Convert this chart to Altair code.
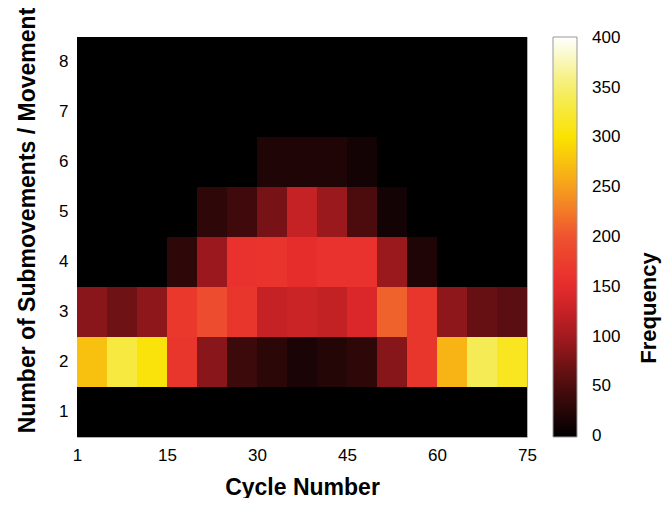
import altair as alt
import pandas as pd

# Cycle-number bins (start of each 5-cycle bin), 15 bins covering 1..75
cycle_bin_start = [0, 5, 10, 15, 20, 25, 30, 35, 40, 45, 50, 55, 60, 65, 70]
bin_width = 5
submovements = [1, 2, 3, 4, 5, 6, 7, 8]

freq_1 = [0, 0, 0, 0, 0, 0, 0, 0, 0, 0, 0, 0, 0, 0, 0]
freq_2 = [275, 330, 305, 165, 85, 40, 28, 17, 24, 30, 84, 165, 265, 340, 315]
freq_3 = [85, 70, 88, 168, 192, 165, 125, 130, 124, 142, 210, 165, 88, 65, 58]
freq_4 = [0, 0, 0, 30, 96, 160, 163, 152, 160, 160, 95, 20, 0, 0, 0]
freq_5 = [0, 0, 0, 0, 30, 42, 75, 125, 95, 50, 12, 0, 0, 0, 0]
freq_6 = [0, 0, 0, 0, 0, 0, 20, 20, 20, 12, 0, 0, 0, 0, 0]
freq_7 = [0, 0, 0, 0, 0, 0, 0, 0, 0, 0, 0, 0, 0, 0, 0]
freq_8 = [0, 0, 0, 0, 0, 0, 0, 0, 0, 0, 0, 0, 0, 0, 0]

x_ticks = [0, 15, 30, 45, 60, 75]
legend_ticks = [0, 50, 100, 150, 200, 250, 300, 350, 400]
cmap_stops = [-1, 50, 100, 150, 200, 250, 300, 350, 401]
cmap_colors = ["#000000", "#4c0c0e", "#a21a1f", "#e72a2c", "#ef5230",
               "#f6a01e", "#fbe200", "#f4ee6a", "#ffffff"]

rows = [freq_1, freq_2, freq_3, freq_4, freq_5, freq_6, freq_7, freq_8]
records = []
for n, row in zip(submovements, rows):
    for s, v in zip(cycle_bin_start, row):
        records.append({"start": s, "end": s + bin_width, "n": n, "freq": v})
df = pd.DataFrame(records)

FONT = "Liberation Sans"
cscale = alt.Scale(domain=cmap_stops, range=cmap_colors, interpolate="rgb")

heat = alt.Chart(df).mark_rect().encode(
    x=alt.X("start:Q", scale=alt.Scale(domain=[0, 75], nice=False, zero=False),
            axis=alt.Axis(values=x_ticks, title="Cycle Number",
                          labelExpr="datum.value == 0 ? '1' : datum.label",
                          grid=False, ticks=False, domain=False,
                          labelFont=FONT, labelFontSize=17, labelColor="black",
                          labelPadding=10, titleFont=FONT, titleFontSize=23,
                          titleFontWeight="bold", titleColor="black",
                          titlePadding=13, labelFlush=False)),
    x2="end:Q",
    y=alt.Y("n:O", sort="descending",
            scale=alt.Scale(paddingInner=0, paddingOuter=0),
            axis=alt.Axis(title="Number of Submovements / Movement",
                          labelAngle=0, ticks=False, domain=False, grid=False,
                          labelFont=FONT, labelFontSize=17, labelColor="black",
                          labelPadding=9, titleFont=FONT, titleFontSize=23,
                          titleFontWeight="bold", titleColor="black",
                          titleY=183, titlePadding=19)),
    color=alt.Color("freq:Q", scale=cscale,
                    legend=alt.Legend(type="gradient", orient="none",
                                      legendX=476, legendY=0,
                                      direction="vertical", title=None,
                                      gradientLength=400, gradientThickness=24,
                                      gradientStrokeColor="#999999",
                                      gradientStrokeWidth=1,
                                      values=legend_ticks, labelFont=FONT,
                                      labelFontSize=17, labelColor="black",
                                      labelOffset=15, labelBaseline="middle",
                                      labelOverlap=False)),
)

freq_title = alt.Chart(pd.DataFrame({"t": ["Frequency"]})).mark_text(
    angle=270, font=FONT, fontSize=22, fontWeight="bold", color="black",
    align="center", baseline="middle"
).encode(x=alt.value(572), y=alt.value(271), text="t:N")

chart = alt.layer(heat, freq_title).properties(
    width=450, height=400,
    autosize=alt.AutoSizeParams(type="none"),
    padding={"left": 69, "top": 29, "right": 136, "bottom": 61},
).configure_view(stroke="#b0b0b0", strokeWidth=1)

chart.save("out.html", embed_options={"renderer": "svg", "actions": False})
